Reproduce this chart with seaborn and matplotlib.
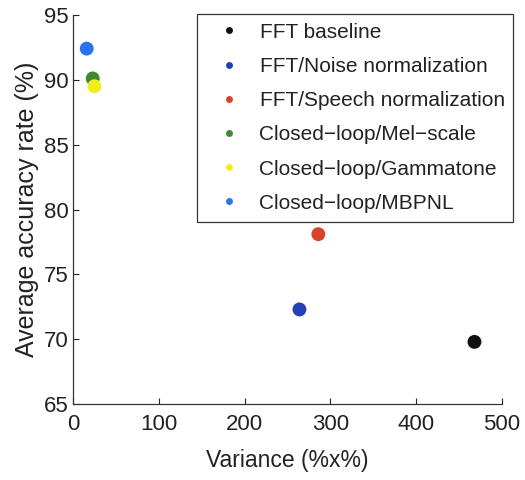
import matplotlib
matplotlib.use("Agg")
import matplotlib.pyplot as plt
import seaborn as sns
import pandas as pd
from matplotlib.lines import Line2D

methods = ["FFT baseline", "FFT/Noise normalization", "FFT/Speech normalization",
           "Closed\u2212loop/Mel\u2212scale", "Closed\u2212loop/Gammatone", "Closed\u2212loop/MBPNL"]
variance = [468, 264, 286, 23, 25, 16]
accuracy = [69.8, 72.3, 78.1, 90.1, 89.5, 92.4]
colors = ["#111111", "#2442b8", "#d8432a", "#3f8a30", "#f2ee1e", "#2b72f2"]

df = pd.DataFrame({"method": methods, "variance": variance, "accuracy": accuracy})

sns.set_style("ticks")
plt.rcParams["font.family"] = ["Liberation Sans", "DejaVu Sans"]
plt.rcParams["xtick.direction"] = "in"
plt.rcParams["ytick.direction"] = "in"

fig = plt.figure(figsize=(5.25, 4.8), dpi=100)
ax = fig.add_axes([0.139, 0.158, 0.817, 0.811])

sns.scatterplot(data=df, x="variance", y="accuracy", hue="method",
                palette=dict(zip(methods, colors)), hue_order=methods,
                s=100, linewidth=0, ax=ax, legend=False)

ax.set_xlim(0, 500)
ax.set_ylim(65, 95)
ax.set_xticks([0, 100, 200, 300, 400, 500])
ax.set_yticks([65, 70, 75, 80, 85, 90, 95])
ax.tick_params(labelsize=16, length=4, width=0.8, colors="#222222")
ax.tick_params(axis="x", pad=7)
ax.tick_params(axis="y", pad=3)
ax.set_xlabel("Variance (%x%)", fontsize=16.5, color="#222222", labelpad=10)
ax.set_ylabel("Average accuracy rate (%)", fontsize=18, color="#222222", labelpad=4)
for side in ["top", "right"]:
    ax.spines[side].set_visible(False)
for side in ["left", "bottom"]:
    ax.spines[side].set_color("#333333")
    ax.spines[side].set_linewidth(0.9)

handles = [Line2D([], [], marker="o", linestyle="none", markersize=5,
                  markerfacecolor=c, markeredgewidth=0) for c in colors]
leg = fig.legend(handles, methods, loc="upper left",
                 bbox_to_anchor=(197/525, 1 - 14/480), fontsize=15,
                 frameon=True, fancybox=False, framealpha=1,
                 edgecolor="#333333", borderpad=0.42, labelspacing=0.73,
                 handletextpad=0.33, handlelength=2.25, borderaxespad=0)
leg.get_frame().set_linewidth(0.9)
for t in leg.get_texts():
    t.set_color("#222222")

fig.savefig("out.png", dpi=100)
